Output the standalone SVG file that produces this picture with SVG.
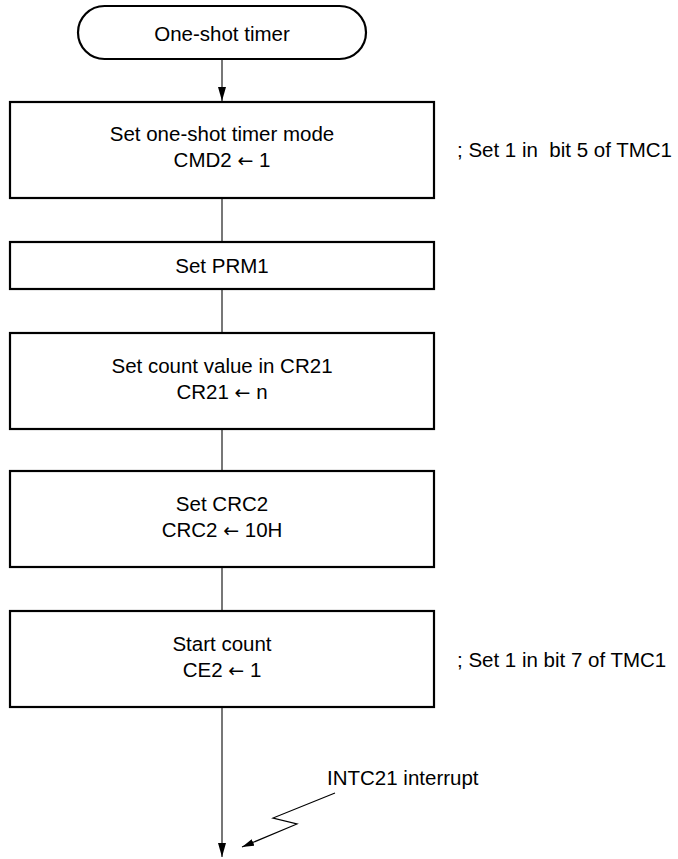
<svg xmlns="http://www.w3.org/2000/svg" width="678" height="859" viewBox="0 0 678 859">
<style>
.box{fill:#fff;stroke:#000;stroke-width:2.2}
.t{font-family:"Liberation Sans",Arial,sans-serif;font-size:20.5px;fill:#000;text-anchor:middle}
.n{font-family:"Liberation Sans",Arial,sans-serif;font-size:20.5px;fill:#000;white-space:pre}
.ar{font-family:"DejaVu Sans",sans-serif;font-size:19px}
.ln{stroke:#555;stroke-width:1.6;fill:none}
</style>
<defs>
<marker id="ah" markerWidth="14" markerHeight="8" refX="14" refY="4" orient="auto" markerUnits="userSpaceOnUse" viewBox="0 0 14 8">
<path d="M0,0 L14,4 L0,8 Z" fill="#000"/>
</marker>
<marker id="ah2" markerWidth="12" markerHeight="7" refX="12" refY="3.5" orient="auto" markerUnits="userSpaceOnUse" viewBox="0 0 12 7">
<path d="M0,0 L12,3.5 L0,7 Z" fill="#000"/>
</marker>
</defs>
<g id="connectors">
<line class="ln" x1="222" y1="59" x2="222" y2="101" marker-end="url(#ah)"/>
<line class="ln" x1="222" y1="198" x2="222" y2="242"/>
<line class="ln" x1="222" y1="289" x2="222" y2="333"/>
<line class="ln" x1="222" y1="429" x2="222" y2="471"/>
<line class="ln" x1="222" y1="567" x2="222" y2="611"/>
<line class="ln" x1="222" y1="707" x2="222" y2="857" marker-end="url(#ah)"/>
<polyline fill="none" stroke="#000" stroke-width="1.2" points="335,793 273,818 297,824 242,847" marker-end="url(#ah2)"/>
</g>
<g id="start">
<rect x="78" y="6" width="288" height="53" rx="26.5" class="box"/>
<text x="222" y="41" class="t">One-shot timer</text>
</g>
<g id="mode">
<rect x="10" y="102" width="424" height="96" class="box"/>
<text x="222" y="141" class="t">Set one-shot timer mode</text>
<text x="222" y="167" class="t">CMD2 <tspan class="ar">←</tspan> 1</text>
</g>
<g id="prm1">
<rect x="10" y="242" width="424" height="47" class="box"/>
<text x="222" y="273" class="t">Set PRM1</text>
</g>
<g id="cr21">
<rect x="10" y="333" width="424" height="96" class="box"/>
<text x="222" y="373" class="t">Set count value in CR21</text>
<text x="222" y="399" class="t">CR21 <tspan class="ar">←</tspan> n</text>
</g>
<g id="crc2">
<rect x="10" y="471" width="424" height="96" class="box"/>
<text x="222" y="511" class="t">Set CRC2</text>
<text x="222" y="537" class="t">CRC2 <tspan class="ar">←</tspan> 10H</text>
</g>
<g id="startcount">
<rect x="10" y="611" width="424" height="96" class="box"/>
<text x="222" y="651" class="t">Start count</text>
<text x="222" y="677" class="t">CE2 <tspan class="ar">←</tspan> 1</text>
</g>
<g id="notes">
<text x="457" y="157" class="n" xml:space="preserve">; Set 1 in  bit 5 of TMC1</text>
<text x="457" y="667" class="n">; Set 1 in bit 7 of TMC1</text>
<text x="327" y="785" class="n">INTC21 interrupt</text>
</g>
</svg>
